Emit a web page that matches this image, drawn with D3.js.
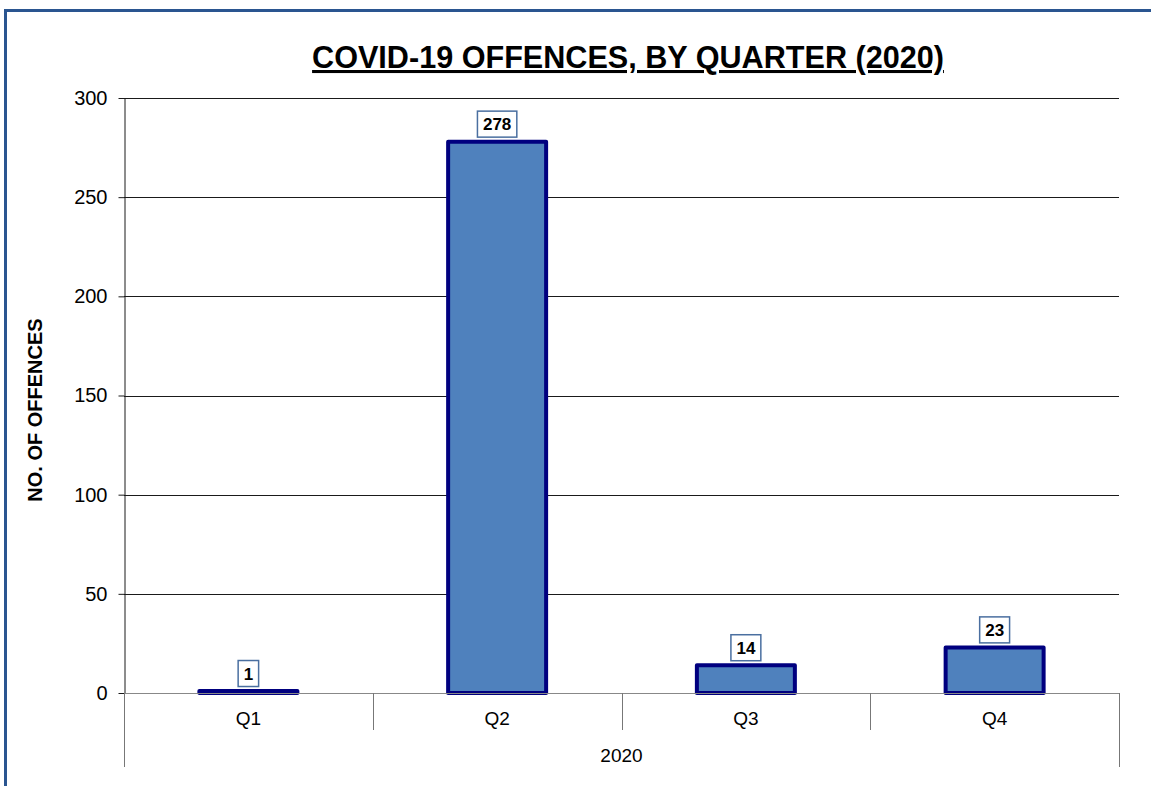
<!DOCTYPE html>
<html><head><meta charset="utf-8">
<script src="https://cdn.jsdelivr.net/npm/d3@7"></script>
<style>html,body{margin:0;padding:0;background:#fff;overflow:hidden}</style>
</head><body>
<svg id="c" width="1151" height="786"></svg>
<script>
const categories = ["Q1","Q2","Q3","Q4"];
const values = [1,278,14,23];
const yTicks = [0,50,100,150,200,250,300];
const groupLabel = "2020";
const title = "COVID-19 OFFENCES, BY QUARTER (2020)";
const yTitle = "NO. OF OFFENCES";

const svg = d3.select("#c");
const font = "Liberation Sans, Arial, sans-serif";
const L = 124, R = 1119, T = 98, B = 693;

// frame
svg.append("rect").attr("x",5.5).attr("y",10.5).attr("width",1160).attr("height",800)
  .attr("fill","none").attr("stroke","#2A5590").attr("stroke-width",3);

const x = d3.scaleBand().domain(categories).range([L,R]).paddingInner(0.59).paddingOuter(0.295);
const xc = d3.scaleBand().domain(categories).range([L,R]);
const y = d3.scaleLinear().domain([0,300]).range([B,T]);

// gridlines
svg.append("g").selectAll("line").data(yTicks.filter(d=>d>0)).join("line")
  .attr("x1",L).attr("x2",R).attr("y1",d=>Math.round(y(d))+0.5).attr("y2",d=>Math.round(y(d))+0.5)
  .attr("stroke","#1a1a1a").attr("stroke-width",1);

// y axis
const ya = svg.append("g").attr("transform",`translate(${L+0.5},0)`)
  .call(d3.axisLeft(y).tickValues(yTicks).tickSize(6).tickSizeOuter(0));
ya.select(".domain").attr("stroke","#1a1a1a");
ya.selectAll(".tick line").attr("stroke","#1a1a1a");
ya.selectAll(".tick text").attr("font-family",font).attr("font-size",20).attr("fill","#000").attr("x",-17);

// bars
svg.append("g").selectAll("rect").data(values).join("rect")
  .attr("x",(d,i)=>x(categories[i])+2).attr("width",x.bandwidth()-4)
  .attr("y",d=>y(d)).attr("height",d=>B-y(d))
  .attr("fill","#4F81BD").attr("stroke","#00007F").attr("stroke-width",4).attr("stroke-linejoin","round");

// x axis baseline
svg.append("line").attr("x1",L).attr("x2",R).attr("y1",B+0.5).attr("y2",B+0.5).attr("stroke","#888").attr("stroke-width",1.2);
// dividers
const divs = categories.map(c=>xc(c)).concat([R]);
svg.append("g").selectAll("line").data(divs).join("line")
  .attr("x1",d=>Math.round(d)+0.5).attr("x2",d=>Math.round(d)+0.5)
  .attr("y1",B).attr("y2",(d,i)=>(i===0||i===divs.length-1)?767:730)
  .attr("stroke","#777").attr("stroke-width",1);

// category labels
svg.append("g").selectAll("text").data(categories).join("text")
  .attr("x",d=>xc(d)+xc.bandwidth()/2).attr("y",725).attr("text-anchor","middle")
  .attr("font-family",font).attr("font-size",19).attr("fill","#000").text(d=>d);
svg.append("text").attr("x",(L+R)/2).attr("y",762).attr("text-anchor","middle")
  .attr("font-family",font).attr("font-size",19).attr("fill","#000").text(groupLabel);

// value labels
const lg = svg.append("g").selectAll("g").data(values).join("g")
  .attr("transform",(d,i)=>`translate(${xc(categories[i])+xc.bandwidth()/2},${y(d)-4.5})`);
lg.each(function(d){
  const g = d3.select(this);
  const t = g.append("text").attr("text-anchor","middle").attr("y",-7)
    .attr("font-family",font).attr("font-size",17).attr("font-weight","bold").attr("fill","#000").text(d);
  const w = t.node().getComputedTextLength();
  g.insert("rect","text").attr("x",-w/2-5.5).attr("y",-26).attr("width",w+11).attr("height",26)
    .attr("fill","#fff").attr("stroke","#4A6FA0").attr("stroke-width",1.5);
});

// title
svg.append("text").attr("x",628).attr("y",68).attr("text-anchor","middle")
  .attr("font-family",font).attr("font-size",30.6).attr("font-weight","bold").attr("fill","#000")
  .attr("text-decoration","underline").text(title);

// y title
svg.append("text").attr("transform","translate(42,410) rotate(-90)").attr("text-anchor","middle")
  .attr("font-family",font).attr("font-size",20).attr("font-weight","bold").attr("fill","#000").text(yTitle);
</script>
</body></html>
